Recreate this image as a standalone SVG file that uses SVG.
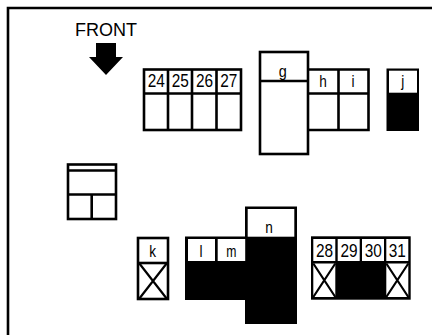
<svg xmlns="http://www.w3.org/2000/svg" width="432" height="335" viewBox="0 0 432 335">
<style>
.b{fill:none;stroke:#000;stroke-width:2.6}
.w{fill:#fff}
.k{fill:#000}
.x{stroke:#000;stroke-width:2.2;fill:none}
text{font-family:"Liberation Sans",Arial,sans-serif;fill:#000;text-anchor:middle}
.n{font-size:17.5px}
.l{font-size:17px}
</style>
<rect width="432" height="335" fill="#fff"/>
<path id="frame" class="b" d="M432 8H8V335"/>
<g id="front">
<text x="106" y="36" style="font-size:18px">FRONT</text>
<path class="k" d="M96 43H116V57H123L106 75L89 57H96Z"/>
</g>
<g id="r24-27">
<rect class="b" x="144" y="69.500" width="97" height="60.500"/>
<path class="b" d="M168 69.500V130M192 69.500V130M216.500 69.500V130M144 93.500H241"/>
<text class="n" transform="translate(156.300 87.300) scale(.88 1)">24</text>
<text class="n" transform="translate(180.300 87.300) scale(.88 1)">25</text>
<text class="n" transform="translate(204.500 87.300) scale(.88 1)">26</text>
<text class="n" transform="translate(228.700 87.300) scale(.88 1)">27</text>
</g>
<g id="g">
<rect class="b" x="260" y="52" width="48" height="102"/>
<path class="b" d="M260 81H308"/>
<text class="l" transform="translate(282.700 76.600) scale(.85 1)">g</text>
</g>
<g id="hi">
<path class="b" d="M308 69.500H368.500V130H308M338.500 69.500V130M308 93.500H368.500"/>
<text class="l" transform="translate(323 87.300) scale(.8 1)">h</text>
<text class="l" transform="translate(353 87.300) scale(.8 1)">i</text>
</g>
<g id="j">
<rect class="k" x="386.500" y="68.500" width="32.500" height="62.500"/>
<rect class="w" x="389" y="70.700" width="28" height="22"/>
<text class="l" transform="translate(402.700 87.300) scale(.8 1)">j</text>
</g>
<g id="relay">
<rect class="b" x="68" y="164.500" width="48" height="54.500"/>
<path class="b" d="M68 170.500H116M68 194.500H116M91.700 194.500V219"/>
</g>
<g id="k">
<rect class="b" x="138" y="238" width="30" height="61"/>
<path class="b" d="M138 263H168"/>
<path class="x" d="M139 263L167 299M167 263L139 299"/>
<text class="l" transform="translate(152.700 256.500) scale(.8 1)">k</text>
</g>
<g id="lmn">
<path class="k" d="M185 236.500H245V206.500H297V324H245V300H185Z"/>
<rect class="w" x="188" y="239" width="27" height="22"/>
<rect class="w" x="217.700" y="239" width="27.500" height="22"/>
<rect class="w" x="247.700" y="209" width="46.600" height="27.700"/>
<text class="l" transform="translate(201 256.500) scale(.8 1)">l</text>
<text class="l" transform="translate(231.300 256.500) scale(.72 1)">m</text>
<text class="l" transform="translate(269 232.700) scale(.8 1)">n</text>
</g>
<g id="r28-31">
<rect class="k" x="311" y="236.300" width="99.700" height="63.400"/>
<rect class="w" x="313.300" y="239" width="22" height="22"/>
<rect class="w" x="337.700" y="239" width="22" height="22"/>
<rect class="w" x="362" y="239" width="22" height="22"/>
<rect class="w" x="386.300" y="239" width="22" height="22"/>
<rect class="w" x="313.300" y="263.500" width="22" height="33.500"/>
<rect class="w" x="386.300" y="263.500" width="22" height="33.500"/>
<path class="x" d="M313.300 263.500L335.300 297M335.300 263.500L313.300 297M386.300 263.500L408.300 297M408.300 263.500L386.300 297"/>
<text class="n" transform="translate(324.600 256.500) scale(.88 1)">28</text>
<text class="n" transform="translate(349 256.500) scale(.88 1)">29</text>
<text class="n" transform="translate(373.300 256.500) scale(.88 1)">30</text>
<text class="n" transform="translate(397.300 256.500) scale(.88 1)">31</text>
</g>
</svg>
